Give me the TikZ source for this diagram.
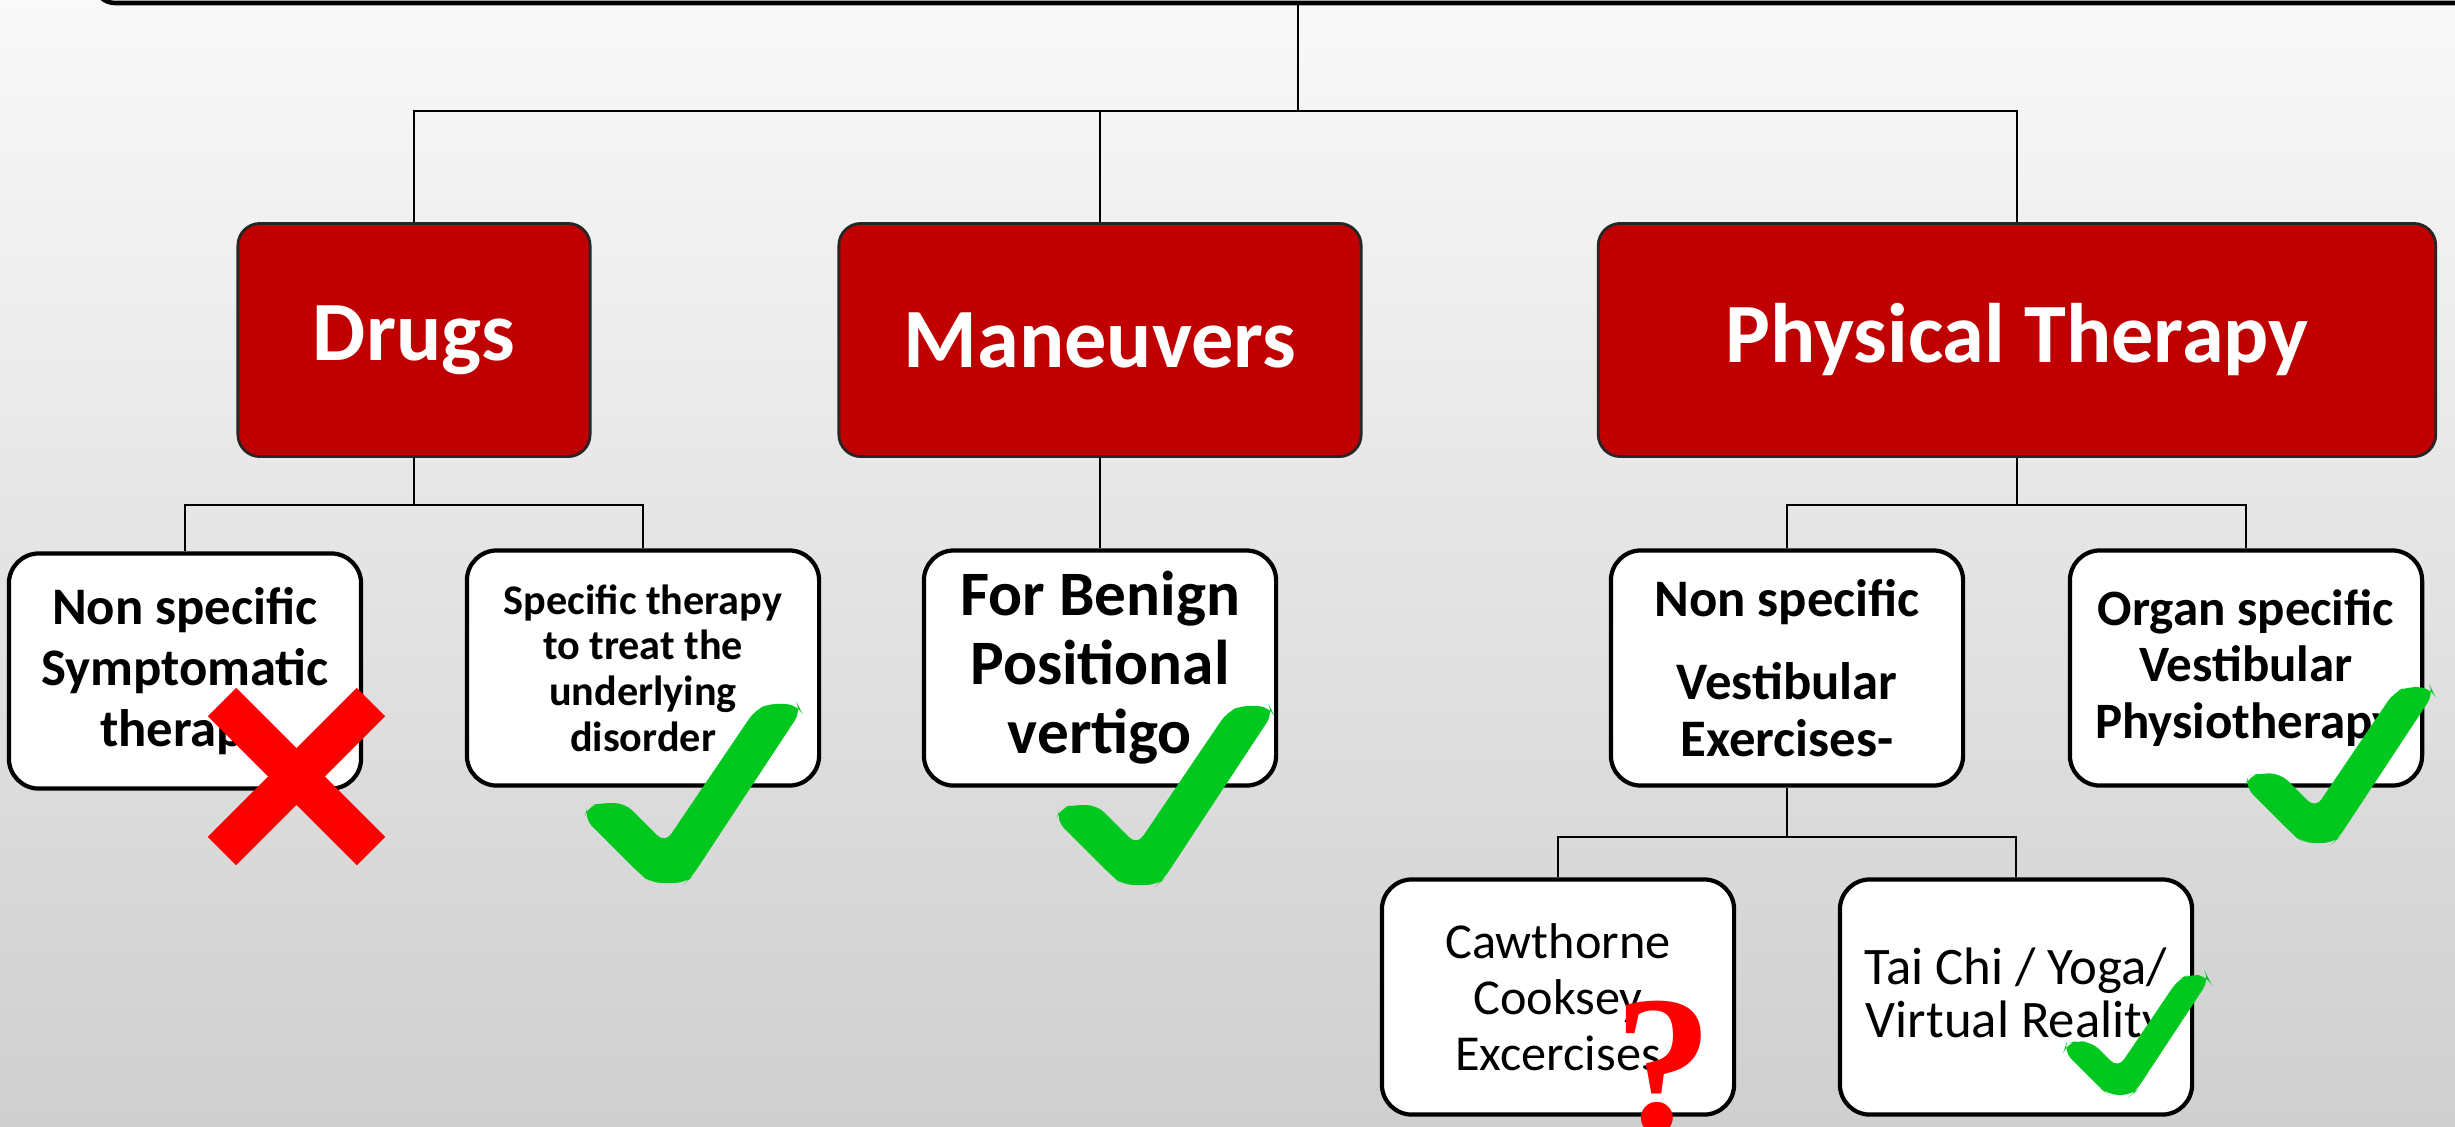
\documentclass[tikz,border=0pt]{standalone}
\usepackage{fontspec}
\setmainfont{Carlito}
\newfontfamily\qfont{Liberation Serif}
\definecolor{boxred}{HTML}{C00000}
\definecolor{checkgreen}{RGB}{0,200,30}
\definecolor{xred}{HTML}{FF0000}
\definecolor{bgtop}{RGB}{249,249,249}
\definecolor{bgbot}{RGB}{207,207,207}
\newcommand\gcheck[3]{\fill[checkgreen, rounded corners=3pt, shift={(#1,#2)}, scale=#3]
  (-17,0) -- (-27,-8) -- (-84,-65) -- (-80,-77) -- (-67,-80) -- (-43,-80) -- (-3,-40)
  -- (87,-173) -- (103,-180) -- (130,-178) -- (133,-172) -- (23,-5) -- (17,0) -- cycle;}
\begin{document}
\begin{tikzpicture}[x=0.01cm,y=-0.01cm,
  redbox/.style={draw=black!85, line width=0.8pt, fill=boxred, rounded corners=0.22cm,
    minimum height=2.33cm, text=white, font=\bfseries\fontsize{24}{29}\selectfont, inner sep=0pt},
  wbox/.style={draw=black, line width=1.2pt, fill=white, rounded corners=0.3cm,
    minimum width=3.52cm, minimum height=2.35cm, align=center, inner sep=0pt},
  conn/.style={draw=black, line width=0.6pt}]
\clip (0,0) rectangle (2455,1126);
\shade[top color=bgtop, bottom color=bgbot] (0,0) rectangle (2455,1126);
\useasboundingbox (0,0) rectangle (2455,1126);
% top box (cut off)
\draw[line width=1.3pt, rounded corners=0.2cm, fill=bgtop] (95,-100) rectangle (2600,3);
\coordinate (root) at (1298,4);
% main categories
\node[redbox, minimum width=3.52cm] (drugs) at (414,340) {Drugs};
\node[redbox, minimum width=5.22cm] (man) at (1100,340) {Maneuvers};
\node[redbox, minimum width=8.37cm] (pt) at (2017,340) {Physical Therapy};
% level 2
\node[wbox, font=\bfseries\fontsize{15}{17.4}\selectfont] (a) at (185,671) {Non specific\\Symptomatic\\therapy};
\node[wbox, font=\bfseries\fontsize{12}{13}\selectfont] (b) at (643,668) {Specific therapy\\to treat the\\underlying\\disorder};
\node[wbox, font=\bfseries\fontsize{18}{19.6}\selectfont] (c) at (1100,668) {For Benign\\Positional\\vertigo};
\node[wbox, font=\bfseries\fontsize{15}{16}\selectfont] (d) at (1787,668) {Non specific\\[7.6pt]Vestibular\\Exercises-};
\node[wbox, font=\bfseries\fontsize{14.5}{16}\selectfont] (e) at (2246,668) {Organ specific\\Vestibular\\Physiotherapy};
% level 3
\node[wbox, font=\fontsize{14.3}{16}\selectfont] (f) at (1558,997) {Cawthorne\\Cooksey\\Excercises};
\node[wbox, font=\fontsize{15}{15.3}\selectfont] (g) at (2016,997) {Tai Chi / Yoga/\\Virtual Reality};
% connectors
\draw[conn] (root) -- ++(0,107) -| (drugs.north);
\draw[conn] (root) -- ++(0,107) -| (man.north);
\draw[conn] (root) -- ++(0,107) -| (pt.north);
\draw[conn] (drugs.south) -- ++(0,47) -| (a.north);
\draw[conn] (drugs.south) -- ++(0,47) -| (b.north);
\draw[conn] (man.south) -- (c.north);
\draw[conn] (pt.south) -- ++(0,47) -| (d.north);
\draw[conn] (pt.south) -- ++(0,47) -| (e.north);
\draw[conn] (d.south) -- ++(0,49) -| (f.north);
\draw[conn] (d.south) -- ++(0,49) -| (g.north);
% marks
\draw[xred, line width=0.4cm] (222,702) -- (371,851) (371,702) -- (222,851);
\gcheck{668}{883}{1}
\gcheck{1140}{885}{1}
\gcheck{2318}{843}{0.87}
\gcheck{2120}{1095}{0.67}
\node[text=xred, font=\qfont\bfseries\fontsize{56}{56}\selectfont, inner sep=0pt] (q) at (1664,1068) {?};
\end{tikzpicture}
\end{document}
